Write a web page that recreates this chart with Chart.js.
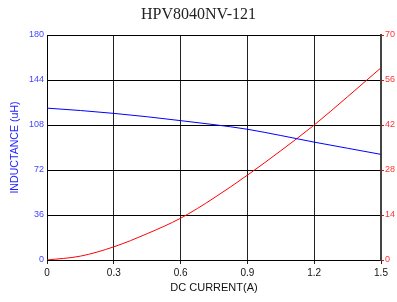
<!DOCTYPE html>
<html>
<head>
<meta charset="utf-8">
<script src="https://cdn.jsdelivr.net/npm/chart.js@4.4.1/dist/chart.umd.min.js"></script>
<style>
    body { margin: 0; background: #fff; }
    #wrap { width: 397px; height: 302px; }
</style>
</head>
<body>
<div id="wrap"><canvas id="myChart"></canvas></div>
<script>
const current = [0, 0.15, 0.3, 0.45, 0.6, 0.75, 0.9, 1.05, 1.2, 1.35, 1.5];
const inductance = [121.5, 119.6, 117.3, 114.6, 111.5, 108.3, 104.6, 99.6, 94.3, 89.4, 84.5];
const tempRise = [0, 1.2, 4.1, 8.2, 13.0, 19.3, 26.4, 34.0, 42.0, 50.8, 59.8];
const xTicks = [0, 0.3, 0.6, 0.9, 1.2, 1.5];
const leftTicks = [0, 36, 72, 108, 144, 180];
const rightTicks = [0, 14, 28, 42, 56, 70];

function toPoints(xs, ys) {
    return xs.map((x, i) => ({ x: x, y: ys[i] }));
}

const ctx = document.getElementById('myChart').getContext('2d');
const myChart = new Chart(ctx, {
    type: 'line',
    data: {
        datasets: [{
            data: toPoints(current, inductance),
            borderColor: '#0000ff',
            borderWidth: 1,
            pointRadius: 0,
            cubicInterpolationMode: 'monotone',
            yAxisID: 'y'
        }, {
            data: toPoints(current, tempRise),
            borderColor: '#ff0000',
            borderWidth: 1,
            pointRadius: 0,
            cubicInterpolationMode: 'monotone',
            yAxisID: 'y2'
        }]
    },
    options: {
        responsive: true,
        maintainAspectRatio: false,
        animation: false,
        layout: { padding: 0 },
        plugins: {
            legend: { display: false },
            tooltip: { enabled: false },
            title: {
                display: true,
                text: 'HPV8040NV-121',
                color: '#222',
                font: { family: 'Liberation Serif', size: 16, weight: 'normal' },
                padding: { top: 5, bottom: 10.8 }
            }
        },
        scales: {
            x: {
                type: 'linear',
                min: 0,
                max: 1.5,
                afterBuildTicks: (scale) => { scale.ticks = xTicks.map(v => ({ value: v })); },
                afterFit: (scale) => { scale.height = 42; },
                border: { color: '#000', width: 1 },
                grid: { color: '#222', tickColor: '#222', tickLength: 4 },
                ticks: {
                    color: '#111',
                    padding: 3,
                    font: { family: 'Liberation Sans', size: 10 },
                    maxRotation: 0,
                    callback: (v) => String(v)
                },
                title: {
                    display: true,
                    text: 'DC CURRENT(A)',
                    color: '#111',
                    padding: { top: 0, bottom: 7 },
                    font: { family: 'Liberation Sans', size: 11 }
                }
            },
            y: {
                position: 'left',
                min: 0,
                max: 180,
                afterBuildTicks: (scale) => { scale.ticks = leftTicks.map(v => ({ value: v })); },
                afterFit: (scale) => { scale.width = 47; },
                border: { color: '#000', width: 1 },
                grid: { color: '#000', drawTicks: false },
                ticks: {
                    color: '#4444ff',
                    padding: 3,
                    font: { family: 'Liberation Sans', size: 9 }
                },
                title: {
                    display: true,
                    text: 'INDUCTANCE (uH)',
                    color: '#2222ff',
                    padding: { top: 9, bottom: 2 },
                    font: { family: 'Liberation Sans', size: 10.6 }
                }
            },
            y2: {
                position: 'right',
                min: 0,
                max: 70,
                afterBuildTicks: (scale) => { scale.ticks = rightTicks.map(v => ({ value: v })); },
                afterFit: (scale) => { scale.width = 16; },
                border: { color: '#444', width: 2 },
                grid: { drawOnChartArea: false, tickColor: '#ff0000', tickLength: 3 },
                ticks: {
                    color: '#ff3333',
                    padding: 1,
                    font: { family: 'Liberation Sans', size: 9 }
                }
            }
        }
    }
});
</script>
</body>
</html>
